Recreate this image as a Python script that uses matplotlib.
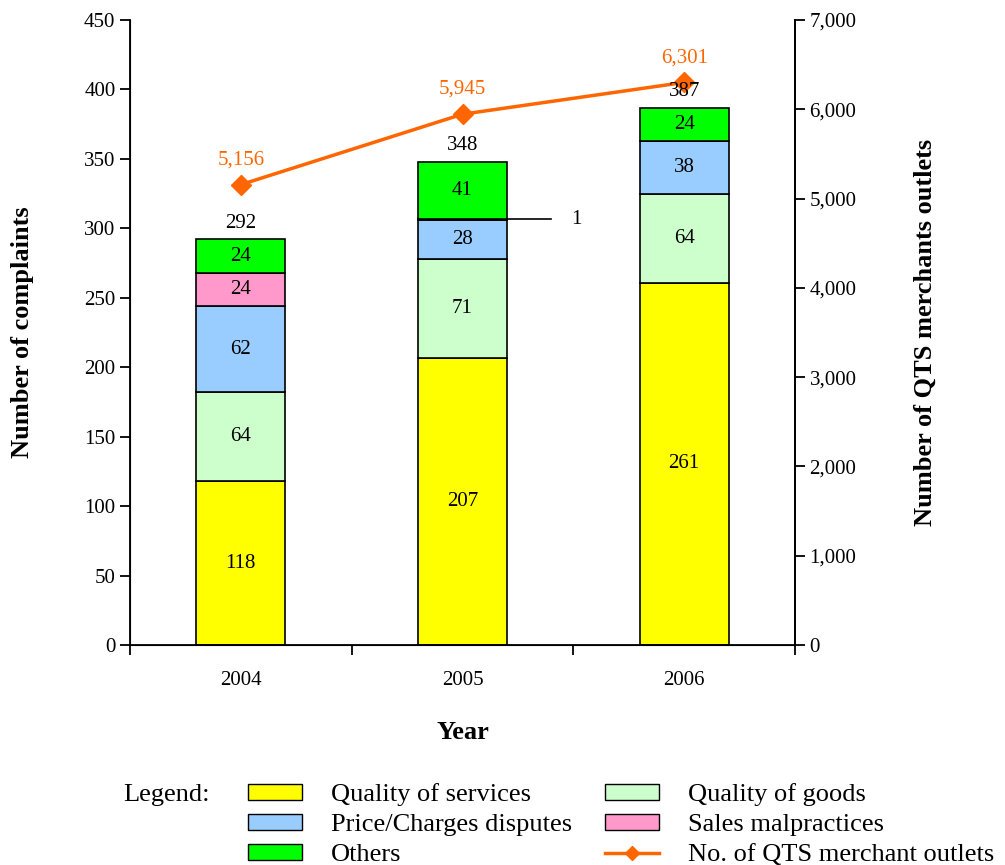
import numpy as np
import matplotlib.pyplot as plt
from matplotlib.lines import Line2D
from matplotlib.patches import Patch
from matplotlib.ticker import FuncFormatter

plt.rcParams['font.family'] = ['Liberation Serif', 'DejaVu Serif']

years = ['2004', '2005', '2006']
services = [118, 207, 261]
goods = [64, 71, 64]
price = [62, 28, 38]
sales = [24, 1, 0]
others = [24, 41, 24]
totals = [292, 348, 387]
outlets = [5156, 5945, 6301]

series = [
    ('Quality of services', services, '#FFFF00'),
    ('Quality of goods', goods, '#CCFFCC'),
    ('Price/Charges disputes', price, '#99CCFF'),
    ('Sales malpractices', sales, '#FF99CC'),
    ('Others', others, '#00FF00'),
]

fig = plt.figure(figsize=(10.05, 8.65), dpi=100)
ax = fig.add_axes([130/1005, 1-645/865, 665/1005, 625/865])
x = np.arange(len(years))
bottom = np.zeros(len(years))
for name, vals, col in series:
    vals = np.array(vals, dtype=float)
    ax.bar(x, vals, 0.4, bottom=bottom, color=col, edgecolor='black', linewidth=1.2, zorder=2)
    for i, v in enumerate(vals):
        if v >= 5:
            ax.text(x[i], bottom[i] + v/2, f'{int(v)}', ha='center', va='center', fontsize=15)
    bottom += vals

# the tiny sales segment in 2005
y1 = 207 + 71 + 28 + 0.5
ax.plot([x[1] + 0.2, x[1] + 0.4], [y1, y1], color='black', lw=1.2)
ax.text(x[1] + 0.49, y1, '1', va='center', ha='left', fontsize=15)

ax.set_xlim(-0.5, 2.5)
ax.set_ylim(0, 450)
ax.set_yticks(range(0, 451, 50))
ax.set_xticks([-0.5, 0.5, 1.5, 2.5])
ax.set_xticklabels([])
ax.set_xticks(x, minor=True)
ax.set_xticklabels(years, minor=True)
ax.tick_params(axis='x', which='minor', length=0, pad=19, labelsize=15)
ax.tick_params(axis='x', which='major', length=7, width=1.3, direction='out')
ax.tick_params(axis='y', length=7, width=1.3, direction='out', labelsize=15)
ax.spines['top'].set_visible(False)
for s in ['left', 'bottom', 'right']:
    ax.spines[s].set_linewidth(1.3)
ax.set_ylabel('Number of complaints', fontsize=19, fontweight='bold', labelpad=36)
ax.set_xlabel('Year', fontsize=19, fontweight='bold', labelpad=22)

ax2 = ax.twinx()
ax2.plot(x, outlets, color='#FF6600', lw=2.5, marker='D', markersize=10, zorder=3)
for i, v in enumerate(outlets):
    ax2.annotate(f'{v:,}', (x[i], v), xytext=(0, 11), textcoords='offset points',
                 ha='center', va='bottom', fontsize=15, color='#FF6600')
# bar totals drawn on top so the line marker does not hide them
for i, t in enumerate(totals):
    ax2.annotate(f'{t}', (x[i], t), xycoords=ax.transData, xytext=(0, 5),
                 textcoords='offset points', ha='center', va='bottom', fontsize=15, zorder=5)
ax2.set_ylim(0, 7000)
ax2.set_yticks(range(0, 7001, 1000))
ax2.yaxis.set_major_formatter(FuncFormatter(lambda v, p: f'{int(v):,}'))
ax2.tick_params(axis='y', length=7, width=1.3, direction='out', labelsize=15)
ax2.spines['top'].set_visible(False)
ax2.spines['right'].set_linewidth(1.3)
ax2.set_ylabel('Number of QTS merchants outlets', fontsize=19, fontweight='bold', labelpad=41)

handles = [
    Patch(facecolor='#FFFF00', edgecolor='black', label='Quality of services'),
    Patch(facecolor='#99CCFF', edgecolor='black', label='Price/Charges disputes'),
    Patch(facecolor='#00FF00', edgecolor='black', label='Others'),
    Patch(facecolor='#CCFFCC', edgecolor='black', label='Quality of goods'),
    Patch(facecolor='#FF99CC', edgecolor='black', label='Sales malpractices'),
    Line2D([0], [0], color='#FF6600', lw=2.5, marker='D', markersize=7, label='No. of QTS merchant outlets'),
]
fig.text(123/1005, 1-795/865, 'Legend:', fontsize=19, va='center', ha='left')
fig.legend(handles=handles, ncol=2, loc='upper left', bbox_to_anchor=(248/1005, 1-783/865),
           frameon=False, fontsize=19, handlelength=2.05, handleheight=0.55,
           handletextpad=1.1, columnspacing=1.25, labelspacing=0.3, borderpad=0, borderaxespad=0)

fig.savefig('out.png', dpi=100)
